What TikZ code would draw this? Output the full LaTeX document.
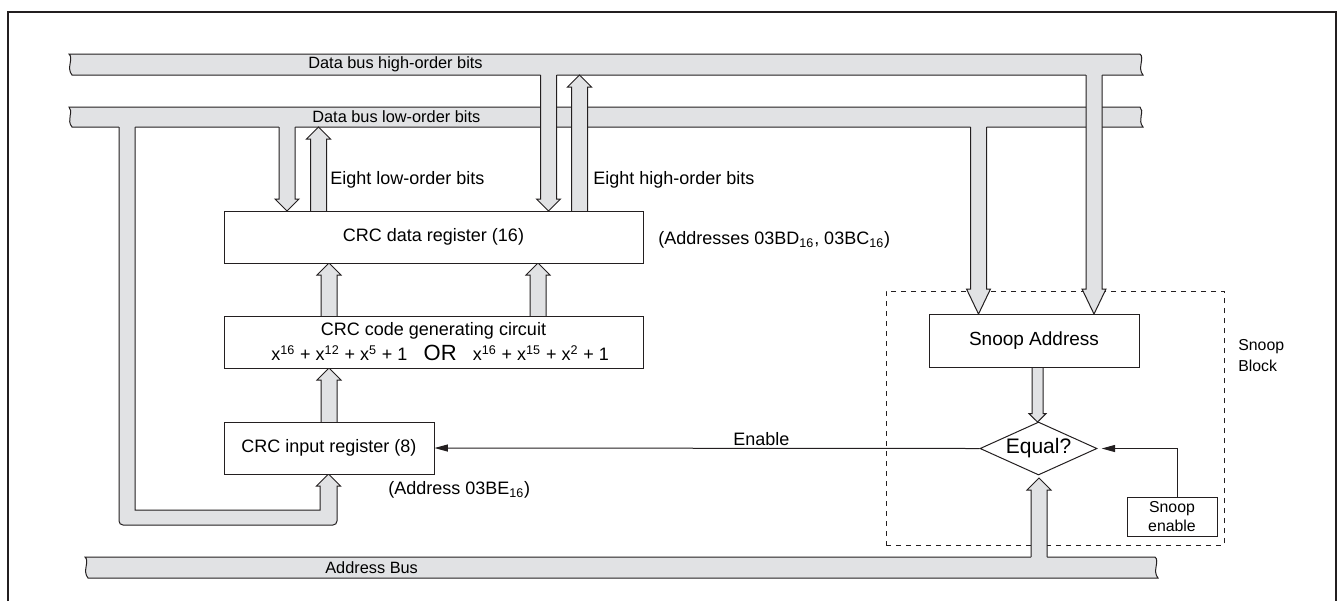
\documentclass[tikz,border=0pt]{standalone}
\usepackage{fontspec}
\setmainfont{Liberation Sans}
\usetikzlibrary{calc,shapes.geometric,arrows.meta}

\definecolor{busgray}{RGB}{225,226,228}
\definecolor{inkline}{RGB}{35,31,32}

\tikzset{
  bus/.style={fill=busgray, draw=inkline, line width=0.6pt},
  pipeline/.style={draw=inkline, line width=0.6pt},
  regbox/.style={draw=inkline, fill=white, line width=0.6pt, inner sep=0pt, font=\fontsize{10.8}{13}\selectfont},
  tag/.style={inner sep=0pt, anchor=west, font=\fontsize{10.8}{13}\selectfont},
  buslabel/.style={inner sep=0pt, anchor=west, font=\fontsize{9.8}{12}\selectfont},
  wire/.style={draw=inkline, line width=0.6pt, -{Triangle[length=8pt,width=4.2pt]}},
}

% bus bar with wavy ends: x left, x right, y top, y bottom
\newcommand\busbar[4]{%
  \filldraw[bus] (#1,#3) -- (#2,#3)
    .. controls (#2+5,#3+4) and (#2-3,#4-7) .. (#2+3,#4)
    -- (#1+3,#4)
    .. controls (#1-3,#4-7) and (#1+5,#3+4) .. (#1,#3) -- cycle;}

% vertical fat arrow from tail #2 to tip #3, #1 = head length
\newcommand\pipehw{4.8pt}% half width of the shaft
\newcommand\pipehh{7.2pt}% half width of the head
\newcommand\pipe[3][7.2pt]{%
  \fill[busgray] let \p1=#2, \p2=#3, \n1={\y1>\y2 ? 1 : -1} in
    (\x1-\pipehw,\y1+\n1*1.2pt) -- (\x1-\pipehw,\y2+\n1*#1)
    -- (\x1-\pipehh,\y2+\n1*#1) -- (\x1,\y2)
    -- (\x1+\pipehh,\y2+\n1*#1) -- (\x1+\pipehw,\y2+\n1*#1)
    -- (\x1+\pipehw,\y1+\n1*1.2pt) -- cycle;
  \draw[pipeline] let \p1=#2, \p2=#3, \n1={\y1>\y2 ? 1 : -1} in
    (\x1-\pipehw,\y1) -- (\x1-\pipehw,\y2+\n1*#1)
    -- (\x1-\pipehh,\y2+\n1*#1) -- (\x1,\y2)
    -- (\x1+\pipehh,\y2+\n1*#1) -- (\x1+\pipehw,\y2+\n1*#1)
    -- (\x1+\pipehw,\y1);}

\begin{document}
\begin{tikzpicture}[x=0.6pt, y=-0.6pt]
  \useasboundingbox (0,0) rectangle (1337,601);

  % Outer frame
  \draw[inkline, line width=0.9pt] (8,601) -- (8,12) -- (1336,12) -- (1336,601);

  % Define bus edges
  \coordinate (hibus) at (600,75);
  \coordinate (lobus) at (600,127);
  \coordinate (adbus) at (600,557);

  % Draw the three buses
  \busbar{69}{1140}{54}{75}
  \busbar{69}{1140}{107}{127}
  \busbar{85}{1155}{557}{578}
  \node[buslabel] (hibuslbl) at (308,64) {Data bus high-order bits};
  \node[buslabel] (lobuslbl) at (312,117) {Data bus low-order bits};
  \node[buslabel] (adbuslbl) at (325,567.5) {Address Bus};

  % Snoop block outline
  \node[draw=inkline, dash pattern=on 3pt off 3pt, line width=0.6pt, inner sep=0pt,
        minimum width=202.8pt, minimum height=152.4pt] (snoopblk) at (1055,418) {};

  % Loop from low-order bus down to the input register
  \fill[busgray] (119,125) [rounded corners=2.4pt] -- (119,525) -- (337,525) -- (337,500)
    [sharp corners] -- (337,486) -- (340.5,486) -- (328.5,474) -- (316.5,486) -- (320,486)
    -- (320,510) -- (135,510) -- (135,125) -- cycle;
  \draw[pipeline] (119,127) [rounded corners=2.4pt] -- (119,525) -- (337,525) -- (337,500)
    [sharp corners] -- (337,486) -- (340.5,486) -- (328.5,474) -- (316.5,486) -- (320,486)
    -- (320,510) -- (135,510) -- (135,127);

  % Data bus <-> CRC data register
  \pipe{(lobus -| 287,0)}{(233,211 -| 287,0)}
  \pipe{(233,211 -| 318.5,0)}{(lobus -| 318.5,0)}
  \pipe{(hibus -| 548.5,0)}{(233,211 -| 548.5,0)}
  \pipe{(233,211 -| 579.5,0)}{(hibus -| 579.5,0)}

  % Inside the CRC unit
  \pipe{(329,316)}{(329,263)}
  \pipe{(538,316)}{(538,263)}
  \pipe{(329,422)}{(329,368)}

  % Buses into the snoop block
  \pipe[15pt]{(lobus -| 978.5,0)}{(978.5,314)}
  \pipe[15pt]{(hibus -| 1094,0)}{(1094,314)}
  \pipe{(adbus -| 1039,0)}{(1039,478)}
  {\renewcommand\pipehw{3.3pt}\renewcommand\pipehh{5.1pt}%
   \pipe[5pt]{(1037.5,367)}{(1037.5,422)}}

  % Registers
  \node[regbox, minimum width=251.4pt, minimum height=31.2pt] (crcdata) at (433.5,237) {CRC data register (16)};
  \node[regbox, minimum width=251.4pt, minimum height=31.2pt, align=center,
        font=\fontsize{10.8}{15}\selectfont] (crcgen) at (433.5,342)
    {CRC code generating circuit\\
     \hspace*{8pt}x\textsuperscript{16} + x\textsuperscript{12} + x\textsuperscript{5} + 1\hspace{0.9em}{\fontsize{13.2}{15}\selectfont OR}\hspace{0.9em}x\textsuperscript{16} + x\textsuperscript{15} + x\textsuperscript{2} + 1};
  \node[regbox, minimum width=126pt, minimum height=31.2pt] (crcin) at (329,448) {CRC input register (8)};

  % Snoop parts
  \node[regbox, minimum width=126pt, minimum height=31.8pt, font=\fontsize{11.4}{13}\selectfont] (snoopaddr) at (1034,340.5) {Snoop Address};
  \node[draw=inkline, fill=white, line width=0.6pt, diamond, shape aspect=2.2, inner sep=0pt,
        minimum width=70.2pt, minimum height=31.8pt, font=\fontsize{12.6}{14}\selectfont] (equal) at (1038.5,448.5) {Equal?};
  \node[regbox, minimum width=54pt, minimum height=23.4pt, align=center,
        font=\fontsize{9.5}{11.5}\selectfont] (snoopen) at (1172,516.5) {Snoop\\enable};

  % Control lines
  \draw[wire] (equal.west) -- (crcin.east);
  \draw[wire, shorten >=2.5pt] ($(snoopen.north)+(5,0)$) |- (equal.east);

  % Labels
  \node[tag] (lolbl) at (330,180) {Eight low-order bits};
  \node[tag] (hilbl) at (593,180) {Eight high-order bits};
  \node[tag] (datalbl) at (658,240) {(Addresses 03BD\textsubscript{16}, 03BC\textsubscript{16})};
  \node[tag] (inlbl) at (388,490) {(Address 03BE\textsubscript{16})};
  \node[tag] (enlbl) at (733,439) {Enable};
  \node[inner sep=0pt, anchor=west, align=left, font=\fontsize{9.5}{12.6}\selectfont] (blklbl) at (1238,356) {Snoop\\Block};
\end{tikzpicture}
\end{document}
